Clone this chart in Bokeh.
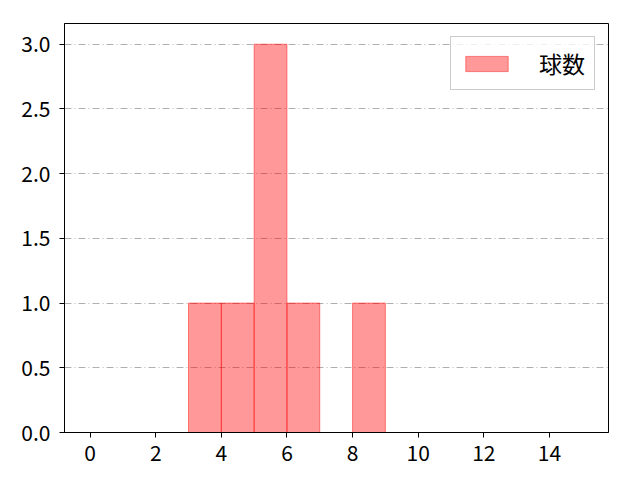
from bokeh.plotting import figure
from bokeh.models import ColumnDataSource, Range1d, FixedTicker, Legend, LegendItem, NumeralTickFormatter
from bokeh.embed import file_html
from bokeh.resources import INLINE

# data
bin_left = [3, 4, 5, 6, 8]
bin_right = [4, 5, 6, 7, 9]
counts = [1, 1, 3, 1, 1]
series_name = "球数"
x_ticks = [0, 2, 4, 6, 8, 10, 12, 14]
y_ticks = [0.0, 0.5, 1.0, 1.5, 2.0, 2.5, 3.0]

FONT = "Noto Sans CJK JP"

src = ColumnDataSource(dict(left=bin_left, right=bin_right, top=counts, bottom=[0] * len(counts)))

p = figure(frame_width=544, frame_height=409, output_backend="svg", toolbar_location=None,
           x_range=Range1d(-0.78, 15.8), y_range=Range1d(0, 3.16),
           min_border_left=64, min_border_top=23, min_border_right=24, min_border_bottom=40)

r = p.quad(left="left", right="right", top="top", bottom="bottom", source=src,
           fill_color="red", fill_alpha=0.4, line_color="red", line_alpha=0.45, line_width=1)

p.xaxis.ticker = FixedTicker(ticks=x_ticks)
p.yaxis.ticker = FixedTicker(ticks=y_ticks)
p.yaxis.formatter = NumeralTickFormatter(format="0.0")
for ax in (p.xaxis[0], p.yaxis[0]):
    ax.major_label_text_font = FONT
    ax.major_label_text_font_size = "21px"
    ax.major_label_text_color = "black"
    ax.axis_line_color = "black"
    ax.major_tick_line_color = "black"
    ax.major_tick_out = 5
    ax.major_tick_in = 0
    ax.minor_tick_line_color = None
p.xaxis.major_label_standoff = 7
p.yaxis.major_label_standoff = 9

p.xgrid.grid_line_color = None
p.ygrid.grid_line_color = "#b0b0b0"
p.ygrid.grid_line_dash = "7 3 1 3"
p.ygrid.grid_line_width = 1
p.outline_line_color = "black"
p.outline_line_alpha = 1
p.outline_line_width = 1

legend = Legend(items=[LegendItem(label=series_name, renderers=[r])], location="top_right")
legend.label_text_font = FONT
legend.label_text_font_size = "23px"
legend.label_text_color = "black"
legend.glyph_width = 53
legend.glyph_height = 19
legend.label_height = 20
legend.label_standoff = 26
legend.border_line_color = "#cccccc"
legend.border_line_alpha = 1
legend.background_fill_alpha = 0.8
legend.margin = 13
legend.padding = 9
p.add_layout(legend)

open("out.html", "w").write(file_html(p, INLINE))
